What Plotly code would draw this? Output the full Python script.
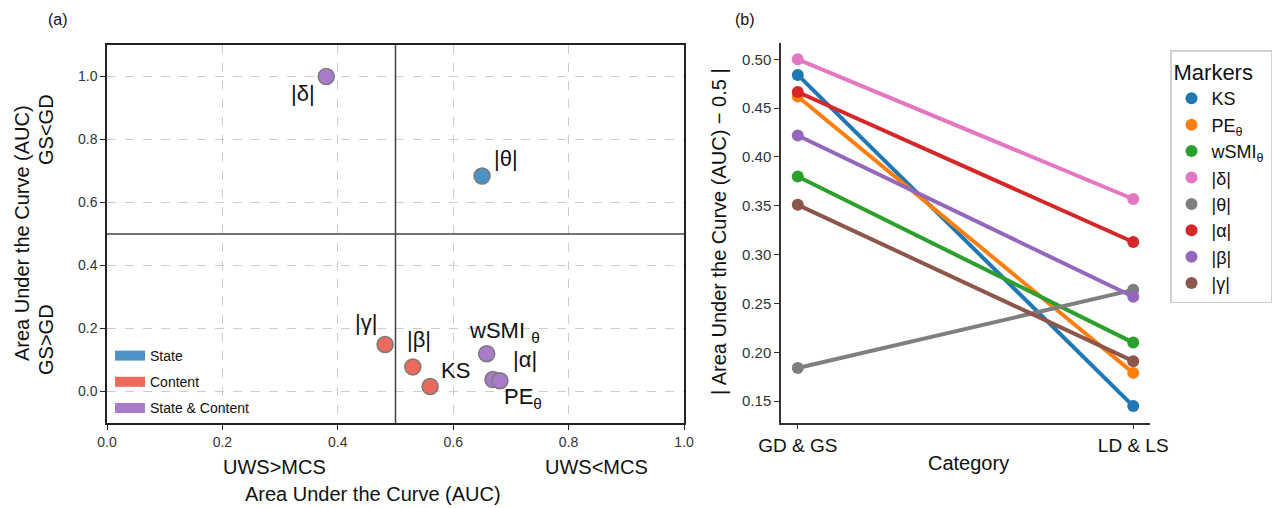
import plotly.graph_objects as go

W, H = 1287, 508
FONT = "Liberation Sans, Arial, sans-serif"

# ---------- Panel (a) data ----------
a_labels = ["|δ|", "|θ|", "|γ|", "|β|", "KS", "wSMI <sub>θ</sub>", "PE<sub>θ</sub>", "|α|"]
a_x = [0.380, 0.650, 0.482, 0.530, 0.560, 0.658, 0.669, 0.681]
a_y = [1.000, 0.684, 0.149, 0.078, 0.016, 0.120, 0.038, 0.034]
a_group = ["State & Content", "State", "Content", "Content", "Content",
           "State & Content", "State & Content", "State & Content"]
a_label_shift_x = [-23, 24, -19, 6, 25, 18, 30, 25]
a_label_shift_y = [-17, 18, 22, 27, 16, 22, -18, 21]
groups = ["State", "Content", "State & Content"]
group_colors = {"State": "#4c92c6", "Content": "#ec6a5c", "State & Content": "#a97bc8"}
threshold = 0.5

# ---------- Panel (b) data ----------
b_categories = ["GD & GS", "LD & LS"]
b_names = ["KS", "PE<sub>θ</sub>", "wSMI<sub>θ</sub>", "|δ|", "|θ|", "|α|", "|β|", "|γ|"]
b_gd = [0.484, 0.462, 0.380, 0.500, 0.184, 0.4665, 0.422, 0.351]
b_ld = [0.145, 0.179, 0.210, 0.357, 0.264, 0.313, 0.257, 0.191]
b_colors = ["#1f77b4", "#ff7f0e", "#2ca02c", "#e377c2", "#7f7f7f", "#d62728", "#9467bd", "#8c564b"]

fig = go.Figure()

# legend patches for panel (a)
for g in groups:
    fig.add_trace(go.Scatter(x=[None], y=[None], mode="lines", name=g, legendgroup=g,
                             line=dict(color=group_colors[g], width=12),
                             xaxis="x", yaxis="y", legend="legend"))

# points panel (a)
fig.add_trace(go.Scatter(
    x=a_x, y=a_y, mode="markers", showlegend=False, xaxis="x", yaxis="y",
    marker=dict(size=16, color=[group_colors[g] for g in a_group],
                line=dict(color="#7a7a7a", width=1.5)),
))

# lines panel (b)
for name, gd, ld, c in zip(b_names, b_gd, b_ld, b_colors):
    fig.add_trace(go.Scatter(
        x=b_categories, y=[gd, ld], mode="lines", showlegend=False,
        line=dict(color=c, width=4), xaxis="x2", yaxis="y2",
    ))
    fig.add_trace(go.Scatter(
        x=b_categories, y=[gd, ld], mode="markers", name=name,
        marker=dict(color=c, size=12), xaxis="x2", yaxis="y2", legend="legend2",
    ))

# label annotations panel (a)
annotations = []
for lab, x, y, dx, dy in zip(a_labels, a_x, a_y, a_label_shift_x, a_label_shift_y):
    annotations.append(dict(x=x, y=y, xref="x", yref="y", text=lab, showarrow=False,
                            xshift=dx, yshift=dy, font=dict(size=22, color="#111111", family=FONT)))

def paper_ann(text, px, py, size, angle=0, xanchor="center"):
    return dict(x=px / W, y=1 - py / H, xref="paper", yref="paper", text=text, showarrow=False,
                textangle=angle, xanchor=xanchor, yanchor="middle",
                font=dict(size=size, color="#111111", family=FONT))

annotations += [
    paper_ann("(a)", 58, 19, 16),
    paper_ann("(b)", 745, 19, 16),
    paper_ann("UWS>MCS", 274, 467, 20),
    paper_ann("UWS<MCS", 596, 467, 20),
    paper_ann("Area Under the Curve (AUC)", 373, 494, 20),
    paper_ann("Area Under the Curve (AUC)", 22, 233, 20, -90),
    paper_ann("GS<GD", 46, 130, 20, -90),
    paper_ann("GS>GD", 46, 340, 20, -90),
    paper_ann("| Area Under the Curve (AUC) − 0.5 |", 719, 232, 20, -90),
    paper_ann("Category", 968, 463, 20),
]

shapes = [
    dict(type="line", xref="x", yref="y domain", x0=threshold, x1=threshold, y0=0, y1=1,
         line=dict(color="#444444", width=1.5)),
    dict(type="line", xref="x domain", yref="y", x0=0, x1=1, y0=threshold, y1=threshold,
         line=dict(color="#444444", width=1.5)),
]

tickfont = dict(size=14, color="#333333", family=FONT)
fig.update_layout(
    width=W, height=H, margin=dict(l=0, r=0, t=0, b=0, autoexpand=False),
    paper_bgcolor="white", plot_bgcolor="white",
    font=dict(family=FONT),
    xaxis=dict(domain=[107 / W, 684 / W], range=[0, 1], dtick=0.2, tickformat=".1f",
               showgrid=True, gridcolor="#cccccc", griddash="dash", gridwidth=1,
               zeroline=False, showline=True, linecolor="#222222", linewidth=1.5, mirror=True,
               ticks="outside", ticklen=5, tickcolor="#222222", tickfont=tickfont, anchor="y"),
    yaxis=dict(domain=[(H - 423) / H, (H - 45) / H], range=[-0.1, 1.1], dtick=0.2, tick0=0,
               tickformat=".1f",
               showgrid=True, gridcolor="#cccccc", griddash="dash", gridwidth=1,
               zeroline=False, showline=True, linecolor="#222222", linewidth=1.5, mirror=True,
               ticks="outside", ticklen=5, tickcolor="#222222", tickfont=tickfont, anchor="x"),
    xaxis2=dict(domain=[781 / W, 1150 / W], range=[-0.05, 1.05], type="category",
                showgrid=False, zeroline=False, showline=True, linecolor="#333333", linewidth=1.5,
                ticks="outside", ticklen=5, tickcolor="#333333",
                tickfont=dict(size=19, color="#111111", family=FONT), anchor="y2"),
    yaxis2=dict(domain=[(H - 422.7) / H, (H - 42.7) / H], range=[0.128, 0.517], dtick=0.05,
                tick0=0.15, tickformat=".2f",
                showgrid=False, zeroline=False, showline=True, linecolor="#333333", linewidth=1.5,
                ticks="outside", ticklen=5, tickcolor="#333333",
                tickfont=dict(size=15, color="#333333", family=FONT), anchor="x2"),
    legend=dict(x=110 / W, y=1 - 424 / H, xanchor="left", yanchor="bottom",
                bgcolor="rgba(255,255,255,0)", borderwidth=0, traceorder="grouped",
                font=dict(size=14, color="#111111", family=FONT), tracegroupgap=5),
    legend2=dict(x=1170 / W, y=1 - 50 / H, xanchor="left", yanchor="top",
                 bgcolor="white", bordercolor="#d0d0d0", borderwidth=1.5,
                 title=dict(text="Markers", font=dict(size=22, color="#111111", family=FONT)),
                 font=dict(size=18, color="#111111", family=FONT), tracegroupgap=0,
                 itemwidth=30),
    annotations=annotations, shapes=shapes, showlegend=True,
)

fig.write_html("out.html", config={"displayModeBar": False},
               post_script="document.body.style.margin='0px';")
